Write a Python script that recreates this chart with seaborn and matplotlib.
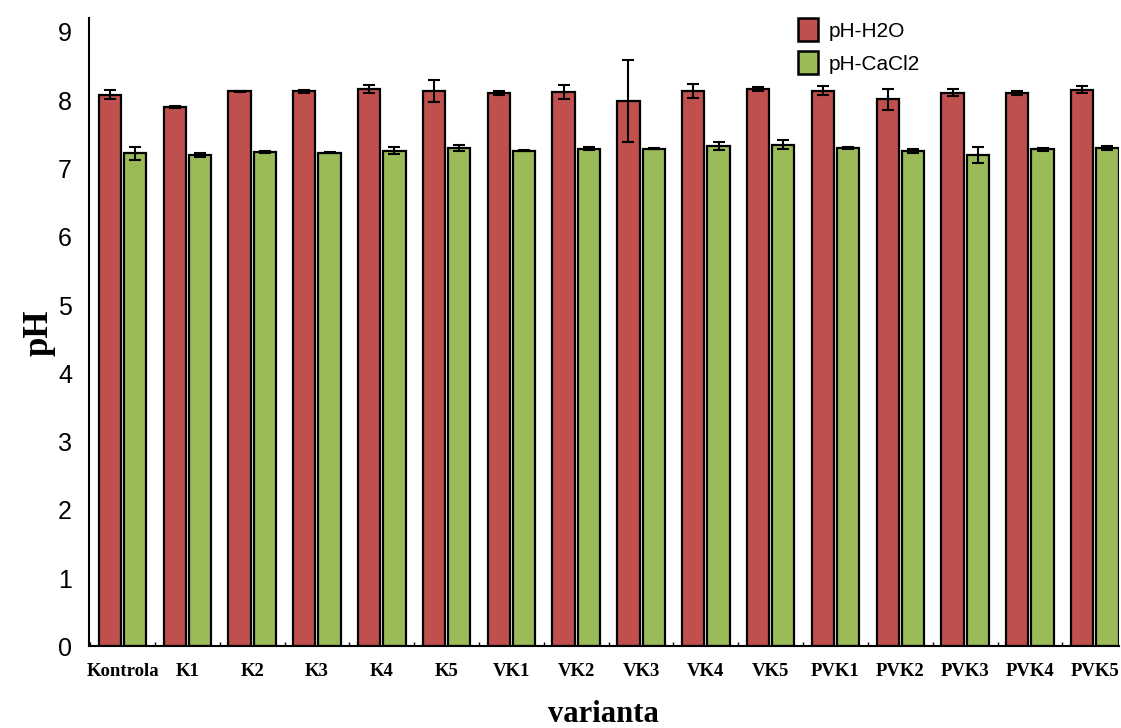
import matplotlib
matplotlib.use("Agg")
import matplotlib.pyplot as plt
import seaborn as sns
import pandas as pd
import numpy as np

categories = ["Kontrola", "K1", "K2", "K3", "K4", "K5", "VK1", "VK2", "VK3", "VK4",
              "VK5", "PVK1", "PVK2", "PVK3", "PVK4", "PVK5"]
ph_h2o = [8.08, 7.90, 8.13, 8.13, 8.16, 8.13, 8.10, 8.12, 7.99, 8.13,
          8.16, 8.14, 8.01, 8.11, 8.10, 8.15]
ph_h2o_err = [0.07, 0.01, 0.01, 0.02, 0.06, 0.16, 0.03, 0.10, 0.60, 0.10,
              0.03, 0.06, 0.16, 0.05, 0.03, 0.05]
ph_cacl2 = [7.22, 7.20, 7.24, 7.23, 7.26, 7.30, 7.26, 7.29, 7.29, 7.33,
            7.35, 7.30, 7.26, 7.20, 7.28, 7.30]
ph_cacl2_err = [0.10, 0.03, 0.01, 0.01, 0.05, 0.04, 0.005, 0.02, 0.01, 0.06,
                0.07, 0.01, 0.03, 0.12, 0.02, 0.03]
series = ["pH-H2O", "pH-CaCl2"]
colors = ["#C0504D", "#9BBB59"]

df = pd.DataFrame({
    "varianta": categories * 2,
    "pH": ph_h2o + ph_cacl2,
    "err": ph_h2o_err + ph_cacl2_err,
    "serie": [series[0]] * len(categories) + [series[1]] * len(categories),
})

sns.set_style("white")
plt.rcParams["text.color"] = "black"
plt.rcParams["xtick.color"] = "black"
plt.rcParams["ytick.color"] = "black"
plt.rcParams["axes.labelcolor"] = "black"

fig, ax = plt.subplots(figsize=(11.21, 7.28), dpi=100)
fig.subplots_adjust(left=0.079, right=0.998, bottom=0.112, top=0.975)

sns.barplot(data=df, x="varianta", y="pH", hue="serie", order=categories,
            hue_order=series, palette=colors, errorbar=None, width=0.78,
            gap=0.12, edgecolor="black", linewidth=1.6, ax=ax, saturation=1)

# error bars placed on the bars drawn by seaborn
for cont, vals, errs in zip(ax.containers, [ph_h2o, ph_cacl2], [ph_h2o_err, ph_cacl2_err]):
    xs = [p.get_x() + p.get_width() / 2 for p in cont.patches]
    ax.errorbar(xs, vals, yerr=errs, fmt="none", ecolor="black", elinewidth=1.5,
                capsize=4, capthick=1.5, zorder=5)

ax.set_ylim(0, 9.2)
ax.set_yticks(range(0, 10))
ax.set_xlim(-0.524, 15.37)
ax.set_xticks(np.arange(len(categories)) - 0.5, minor=True)
ax.tick_params(axis="x", which="minor", direction="in", length=3, width=1, bottom=True)
ax.tick_params(axis="x", which="major", length=0, pad=12)
ax.tick_params(axis="y", length=0, pad=12)

for lab in ax.get_yticklabels():
    lab.set_fontfamily("Liberation Sans")
    lab.set_fontsize(18)
for lab in ax.get_xticklabels():
    lab.set_fontfamily("Liberation Serif")
    lab.set_fontweight("bold")
    lab.set_fontsize(13.5)

ax.set_ylabel("pH", family="Liberation Serif", fontweight="bold", fontsize=25, labelpad=2)
ax.set_xlabel("varianta", family="Liberation Serif", fontweight="bold", fontsize=22, labelpad=14)

sns.despine(ax=ax)
for s in ["left", "bottom"]:
    ax.spines[s].set_color("black")
    ax.spines[s].set_linewidth(1.5)

leg = ax.legend(loc="upper left", bbox_to_anchor=(0.67, 1.03), frameon=False,
                prop={"family": "Liberation Sans", "size": 15},
                handlelength=1.0, handleheight=1.35, handletextpad=0.5, labelspacing=0.45)
for h in leg.legend_handles:
    h.set_edgecolor("black")
    h.set_linewidth(1.8)

fig.savefig("out.png", dpi=100)
